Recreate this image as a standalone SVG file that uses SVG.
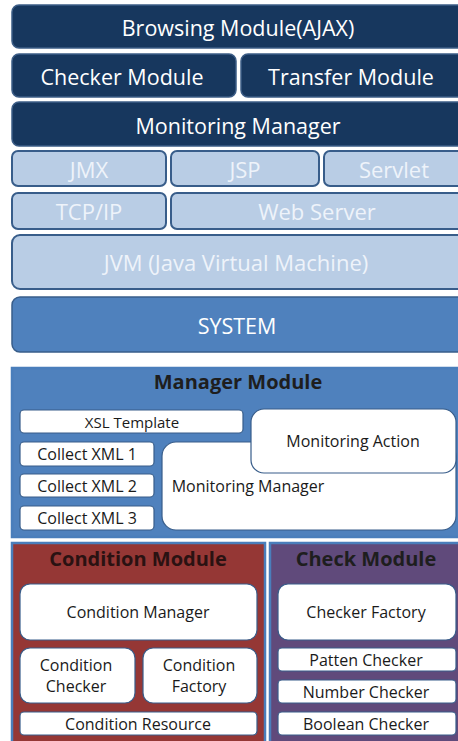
<svg xmlns="http://www.w3.org/2000/svg" width="458" height="741" viewBox="0 0 458 741">
  <style>
    .dark { fill: #17375e; stroke: #3c5d86; stroke-width: 1.5; }
    .light { fill: #b9cde5; stroke: #385d8a; stroke-width: 2; }
    .sys { fill: #4f81bd; stroke: #385d8a; stroke-width: 1.5; }
    .panel { stroke: #4a7ebb; stroke-width: 2.5; }
    .inner { fill: #ffffff; stroke: #385d8a; stroke-width: 1.2; }
    text { font-family: "Open Sans", "Noto Sans", "DejaVu Sans", sans-serif; text-anchor: middle; dominant-baseline: central; }
    .tw { fill: #ffffff; font-size: 21.5px; }
    .tl { fill: #eef3fa; font-size: 22px; }
    .title { fill: #1e1e1e; font-size: 20px; font-weight: bold; }
    .ti { fill: #1a1a1a; font-size: 16px; }
  </style>

  <!-- upper stack -->
  <g id="browsing"><rect class="dark" x="12" y="5" width="460" height="43" rx="7"/><text class="tw" x="238" y="27">Browsing Module(AJAX)</text></g>
  <g id="checker"><rect class="dark" x="12" y="54" width="224" height="43" rx="7"/><text class="tw" x="122" y="76">Checker Module</text></g>
  <g id="transfer"><rect class="dark" x="241" y="54" width="230" height="43" rx="7"/><text class="tw" x="351" y="76">Transfer Module</text></g>
  <g id="monitoring-manager-top"><rect class="dark" x="12" y="102" width="460" height="44" rx="7"/><text class="tw" x="238" y="125">Monitoring Manager</text></g>

  <g id="jmx"><rect class="light" x="12" y="151" width="154" height="35" rx="6"/><text class="tl" x="89" y="169">JMX</text></g>
  <g id="jsp"><rect class="light" x="171" y="151" width="148" height="35" rx="6"/><text class="tl" x="245" y="169">JSP</text></g>
  <g id="servlet"><rect class="light" x="324" y="151" width="150" height="35" rx="6"/><text class="tl" x="394" y="169">Servlet</text></g>
  <g id="tcpip"><rect class="light" x="12" y="193" width="154" height="36" rx="6"/><text class="tl" x="89" y="211">TCP/IP</text></g>
  <g id="webserver"><rect class="light" x="171" y="193" width="300" height="36" rx="6"/><text class="tl" x="317" y="211">Web Server</text></g>
  <g id="jvm"><rect class="light" x="12" y="235" width="460" height="54" rx="8"/><text class="tl" x="236" y="262">JVM (Java Virtual Machine)</text></g>
  <g id="system"><rect class="sys" x="12" y="297" width="460" height="55" rx="8"/><text class="tw" x="237" y="325">SYSTEM</text></g>

  <!-- Manager Module -->
  <g id="manager-module">
    <rect class="panel" x="12" y="368" width="462" height="169" fill="#4f81bd"/>
    <text class="title" x="238" y="381">Manager Module</text>
    <rect class="inner" x="20" y="410" width="223" height="23" rx="4"/><text class="ti" x="132" y="421.5" style="font-size:15px">XSL Template</text>
    <rect class="inner" x="20" y="442" width="134" height="24" rx="4"/><text class="ti" x="87" y="454">Collect XML 1</text>
    <rect class="inner" x="20" y="474" width="134" height="23" rx="4"/><text class="ti" x="87" y="485.5">Collect XML 2</text>
    <rect class="inner" x="20" y="506" width="134" height="24" rx="4"/><text class="ti" x="87" y="518">Collect XML 3</text>
    <rect class="inner" x="162" y="442" width="294" height="88" rx="14"/><text class="ti" x="248" y="486">Monitoring Manager</text>
    <rect class="inner" x="251" y="409" width="205" height="64" rx="13"/><text class="ti" x="353" y="441">Monitoring Action</text>
  </g>

  <!-- Condition Module -->
  <g id="condition-module">
    <rect class="panel" x="12" y="543" width="253" height="210" fill="#953735"/>
    <text class="title" x="138" y="558" fill="#2a1212" style="fill:#2a1212">Condition Module</text>
    <rect class="inner" x="20" y="584" width="237" height="56" rx="10"/><text class="ti" x="138" y="612">Condition Manager</text>
    <rect class="inner" x="20" y="648" width="115" height="55" rx="10"/><text class="ti" x="76" y="665">Condition</text><text class="ti" x="76" y="686">Checker</text>
    <rect class="inner" x="143" y="648" width="114" height="55" rx="10"/><text class="ti" x="199" y="665">Condition</text><text class="ti" x="199" y="686">Factory</text>
    <rect class="inner" x="20" y="712" width="237" height="23" rx="4"/><text class="ti" x="138" y="723.5">Condition Resource</text>
  </g>

  <!-- Check Module -->
  <g id="check-module">
    <rect class="panel" x="270" y="543" width="204" height="210" fill="#604a7b"/>
    <text class="title" x="366" y="558">Check Module</text>
    <rect class="inner" x="278" y="584" width="178" height="56" rx="10"/><text class="ti" x="366" y="612">Checker Factory</text>
    <rect class="inner" x="278" y="648" width="178" height="23" rx="4"/><text class="ti" x="366" y="659.5">Patten Checker</text>
    <rect class="inner" x="278" y="680" width="178" height="23" rx="4"/><text class="ti" x="366" y="691.5">Number Checker</text>
    <rect class="inner" x="278" y="712" width="178" height="23" rx="4"/><text class="ti" x="366" y="723.5">Boolean Checker</text>
  </g>
</svg>
